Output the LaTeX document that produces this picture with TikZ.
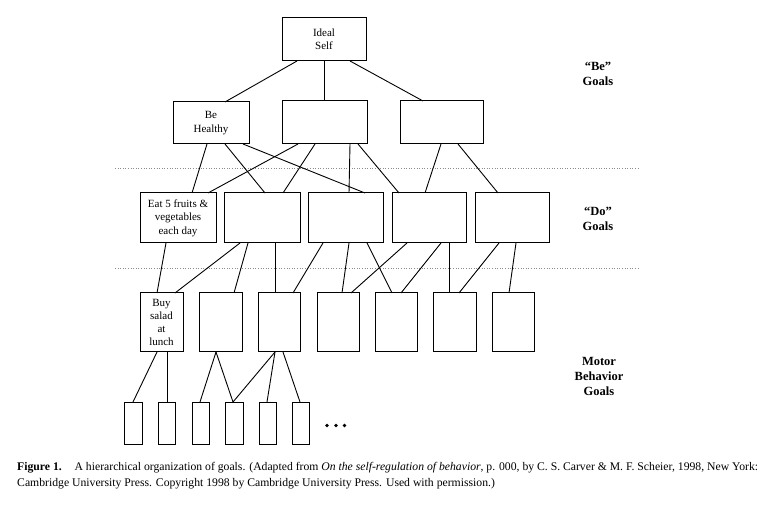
\documentclass[tikz,border=0pt]{standalone}
\usepackage{fontspec}
\setmainfont{Liberation Serif}
\begin{document}
\begin{tikzpicture}[x=1pt,y=-1pt,
  box/.style={draw, line width=1pt, inner sep=0pt, outer sep=0pt, anchor=north west, align=center,
    font=\fontsize{11}{13.4}\selectfont},
  conn/.style={line width=0.9pt},
  sep/.style={draw=black!45, dotted, line width=0.6pt},
  lvl/.style={align=center, font=\fontsize{12.5}{15}\selectfont\bfseries}]
\useasboundingbox (0,0) rectangle (768,510);
% Be row
\node[box, minimum width=84pt, minimum height=43pt] (ideal) at (282,18) {Ideal\\Self};
\node[box, minimum width=76pt, minimum height=42pt] (beh) at (173,102) {Be\\Healthy};
\node[box, minimum width=85pt, minimum height=43pt] (be2) at (282,101) {};
\node[box, minimum width=83pt, minimum height=43pt] (be3) at (400,101) {};
% Do row
\node[box, minimum width=76pt, minimum height=50pt] (d1) at (140,193) {Eat 5 fruits \&\\vegetables\\each day};
\node[box, minimum width=76pt, minimum height=50pt] (d2) at (224,193) {};
\node[box, minimum width=75pt, minimum height=50pt] (d3) at (308,193) {};
\node[box, minimum width=74pt, minimum height=50pt] (d4) at (392,193) {};
\node[box, minimum width=74pt, minimum height=50pt] (d5) at (475,193) {};
% Motor row
\node[box, minimum width=43pt, minimum height=59pt, font=\fontsize{11}{12.8}\selectfont] (m1) at (140,293) {Buy\\salad\\at\\lunch};
\node[box, minimum width=43pt, minimum height=59pt] (m2) at (199,293) {};
\node[box, minimum width=42pt, minimum height=59pt] (m3) at (258,293) {};
\node[box, minimum width=42pt, minimum height=59pt] (m4) at (317,293) {};
\node[box, minimum width=42pt, minimum height=59pt] (m5) at (375,293) {};
\node[box, minimum width=43pt, minimum height=59pt] (m6) at (433,293) {};
\node[box, minimum width=42pt, minimum height=59pt] (m7) at (492,293) {};
% bottom row
\node[box, minimum width=18pt, minimum height=42pt] (b1) at (124,402) {};
\node[box, minimum width=17pt, minimum height=42pt] (b2) at (158,402) {};
\node[box, minimum width=17pt, minimum height=42pt] (b3) at (192,402) {};
\node[box, minimum width=18pt, minimum height=42pt] (b4) at (225,402) {};
\node[box, minimum width=17pt, minimum height=42pt] (b5) at (259,402) {};
\node[box, minimum width=17pt, minimum height=42pt] (b6) at (292,402) {};
% dots
\fill (327,425.5) circle (1.8) (336,425.5) circle (1.8) (344.5,425.5) circle (1.8);
% separators
\coordinate (s1a) at (115,168); \coordinate (s1b) at (640,168);
\coordinate (s2a) at (115,268); \coordinate (s2b) at (640,268);
\draw[sep] (s1a) -- (s1b);
\draw[sep] (s2a) -- (s2b);
% connectors
\newcommand\cn[4]{\draw[conn] (#1.south -| #2,0) -- (#3.north -| #4,0);}
\cn{ideal}{297}{beh}{225}
\cn{ideal}{324}{be2}{324}
\cn{ideal}{350}{be3}{423}
\cn{beh}{207}{d1}{192}
\cn{beh}{225}{d2}{265}
\cn{beh}{243}{d3}{365}
\cn{be2}{298}{d1}{208}
\cn{be2}{315}{d2}{283}
\cn{be2}{350}{d3}{349}
\cn{be2}{358}{d4}{399}
\cn{be3}{441}{d4}{425}
\cn{be3}{458}{d5}{498}
\cn{d1}{166}{m1}{157}
\cn{d2}{240}{m1}{175}
\cn{d2}{248}{m2}{234}
\cn{d2}{275}{m3}{275}
\cn{d3}{323}{m3}{293}
\cn{d3}{349}{m4}{342}
\cn{d3}{367}{m5}{392}
\cn{d4}{407}{m4}{351}
\cn{d4}{441}{m5}{401}
\cn{d4}{449}{m6}{449}
\cn{d5}{499}{m6}{459}
\cn{d5}{516}{m7}{509}
\cn{m1}{157}{b1}{133}
\draw[line width=0.5pt] (m1.south -| 167,0) -- (b2.north -| 167,0);
\cn{m2}{216}{b3}{200}
\cn{m2}{216}{b4}{233}
\cn{m3}{275}{b4}{233}
\cn{m3}{275}{b5}{267}
\cn{m3}{283}{b6}{300}
% level labels
\node[lvl] (lbe) at (598,74) {``Be''\\Goals};
\node[lvl] (ldo) at (598,218.5) {``Do''\\Goals};
\node[lvl] (lmo) at (599,376.5) {Motor\\Behavior\\Goals};
% caption
\node[anchor=base west, inner sep=0pt, font=\fontsize{11.7}{13}\selectfont] (cap1) at (17,470)
  {\resizebox{741pt}{!}{\textbf{Figure 1.}\hspace{1.1em}A hierarchical organization of goals. (Adapted from \textit{On the self-regulation of behavior}, p. 000, by C. S. Carver \& M. F. Scheier, 1998, New York:}};
\node[anchor=base west, inner sep=0pt, font=\fontsize{11.7}{13}\selectfont] (cap2) at (17,486)
  {Cambridge University Press. Copyright 1998 by Cambridge University Press. Used with permission.)};
\end{tikzpicture}
\end{document}
